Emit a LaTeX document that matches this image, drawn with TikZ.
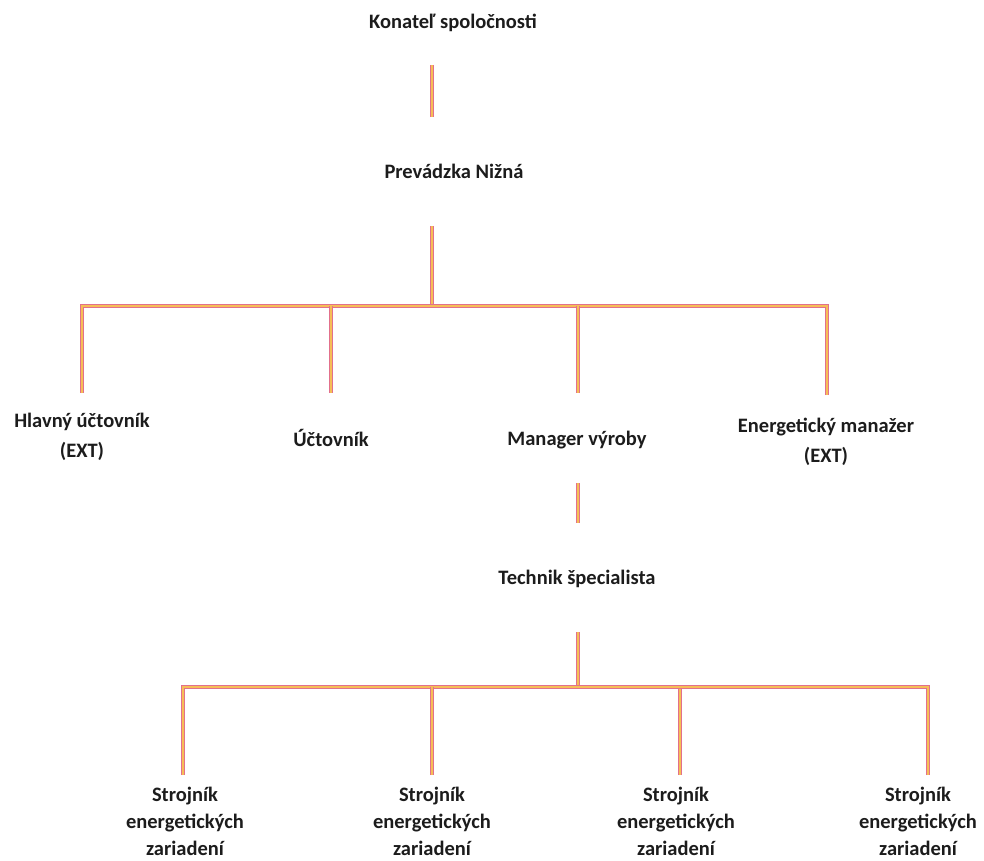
\documentclass[tikz,border=0pt]{standalone}
\usepackage{fontspec}
\setmainfont{Carlito}
\usetikzlibrary{positioning}

\definecolor{linkrim}{RGB}{226,112,140}
\definecolor{linkcore}{RGB}{246,190,86}
\definecolor{ink}{RGB}{28,28,28}

\tikzset{
	post/.style={font=\bfseries\fontsize{20.5}{30}\selectfont, text=ink, inner sep=0pt, anchor=base, text height=14.5pt, text depth=4.5pt},
	twopost/.style={font=\bfseries\fontsize{20.5}{30}\selectfont, text=ink, inner sep=0pt, align=center, anchor=north},
	worker/.style={font=\bfseries\fontsize{20.5}{27}\selectfont, text=ink, inner sep=0pt, align=center, anchor=north},
	link/.style={draw=linkrim, double=linkcore, line width=1.1pt, double distance=1.4pt}
}

\begin{document}
\begin{tikzpicture}[x=1pt,y=-1pt]
	\useasboundingbox (0,0) rectangle (984,860);

	% management
	\node[post] (konatel) at (453,28) {Konateľ spoločnosti};
	\node[post] (prevadzka) at (454,178) {Prevádzka Nižná};

	% second level
	\node[twopost] (hlavny) at (82,413) {Hlavný účtovník\\(EXT)};
	\node[post] (uctovnik) at (331,446) {Účtovník};
	\node[post] (manager) at (577,445) {Manager výroby};
	\node[twopost] (energ) at (826,418) {Energetický manažer\\(EXT)};

	\node[post] (technik) at (577,584) {Technik špecialista};

	% workers
	\node[worker] (stroj1) at (185,787) {Strojník\\energetických\\zariadení};
	\node[worker] (stroj2) at (432,787) {Strojník\\energetických\\zariadení};
	\node[worker] (stroj3) at (676,787) {Strojník\\energetických\\zariadení};
	\node[worker] (stroj4) at (918,787) {Strojník\\energetických\\zariadení};

	\coordinate (top bar) at (432,306);
	\coordinate (low bar) at (578,687);

	\draw[link, shorten <=32.5pt, shorten >=46.5pt] (konatel.south -| top bar) -- (prevadzka.north -| top bar);
	\draw[link, shorten <=43.5pt] (prevadzka.south -| top bar) -- (top bar);

	\draw[link, shorten <=20pt] (hlavny.north) |- (top bar);
	\draw[link, shorten <=23pt] ([xshift=1pt]energ.north) |- (top bar);
	\draw[link, shorten <=38.5pt] (uctovnik.north) -- (uctovnik.north |- top bar);
	\draw[link, shorten <=37.5pt] ([xshift=1pt]manager.north) -- ([xshift=1pt]manager.north |- top bar);

	\draw[link, shorten <=33.5pt, shorten >=46.5pt] ([xshift=1pt]manager.south) -- ([xshift=1pt]technik.north);
	\draw[link, shorten <=43.5pt] ([xshift=1pt]technik.south) -- (low bar);

	\draw[link, shorten <=12pt] ([xshift=-2pt]stroj1.north) |- (low bar);
	\draw[link, shorten <=12pt] (stroj2.north) -- (stroj2.north |- low bar);
	\draw[link, shorten <=12pt] ([xshift=4pt]stroj3.north) -- ([xshift=4pt]stroj3.north |- low bar);
	\draw[link, shorten <=12pt] ([xshift=10pt]stroj4.north) |- (low bar);
\end{tikzpicture}
\end{document}
